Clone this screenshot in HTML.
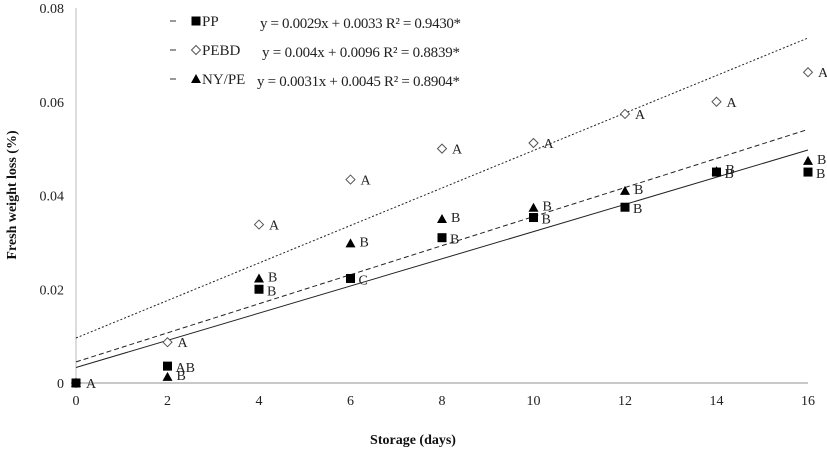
<!DOCTYPE html>
<html><head><meta charset="utf-8"><style>
body{margin:0;background:#fff;}
svg{display:block;font-family:"Liberation Serif",serif;}
</style></head><body>
<svg id="chart" width="827" height="450" viewBox="0 0 827 450" xmlns="http://www.w3.org/2000/svg"></svg>
<script>
const days=[0,2,4,6,8,10,12,14,16];
const ppValues=[0,0.0036,0.020,0.0223,0.031,0.0353,0.0375,0.045,0.045];
const pebdValues=[0,0.0087,0.0338,0.0434,0.050,0.0512,0.0574,0.0600,0.0663];
const nyValues=[0,0.0013,0.0223,0.0298,0.035,0.0374,0.041,0.0452,0.0474];
const ppLetters=["","AB","B","C","B","B","B","B","B"];
const pebdLetters=["A","A","A","A","A","A","A","A","A"];
const nyLetters=["","B","B","B","B","B","B","B","B"];
const xTicks=[0,2,4,6,8,10,12,14,16];
const yTicks=[0,0.02,0.04,0.06,0.08];
const yTickLabels=["0","0.02","0.04","0.06","0.08"];
const trendSlopes=[0.0029,0.004,0.0031];
const trendIntercepts=[0.0033,0.0096,0.0045];

const svg=document.getElementById('chart');
const NS='http://www.w3.org/2000/svg';
const X=d=>76+d*(732/16);
const Y=v=>383-v*(375/0.08);
function mk(tag,attrs,parent){const e=document.createElementNS(NS,tag);for(const k in attrs)e.setAttribute(k,attrs[k]);(parent||svg).appendChild(e);return e;}
function txt(s,attrs){const e=mk('text',attrs);e.textContent=s;return e;}

let e;
e=mk('line',{x1:76,y1:8,x2:76,y2:383,stroke:'#bbb','stroke-width':1});


e=mk('line',{x1:76,y1:383,x2:808,y2:383,stroke:'#c8c8c8','stroke-width':2});



yTicks.forEach((v,i)=>{
 e=txt(yTickLabels[i],{x:64,y:Y(v)+5,'text-anchor':'end','font-size':14,fill:'#222'});
 
 
});
xTicks.forEach(d=>{
 e=txt(String(d),{x:X(d),y:405,'text-anchor':'middle','font-size':14,fill:'#222'});
 
 
});
e=txt('Storage (days)',{x:413,y:444,'text-anchor':'middle','font-size':14,'font-weight':'bold',fill:'#111'});


e=txt('Fresh weight loss (%)',{x:0,y:0,transform:'translate(16,195) rotate(-90)','text-anchor':'middle','font-size':14,'font-weight':'bold',fill:'#111'});



const dashes=['','2,2','5,3'];
const trendNames=['trend-line-pp','trend-line-pebd','trend-line-nype'];
trendSlopes.forEach((a,i)=>{
 const b=trendIntercepts[i];
 e=mk('line',{x1:X(0),y1:Y(b),x2:X(16),y2:Y(a*16+b),stroke:'#222','stroke-width':1,'stroke-dasharray':dashes[i]});
 
 
});

function square(cx,cy){return mk('rect',{x:cx-4.5,y:cy-4.5,width:9,height:9,fill:'#000'});}
function diamond(cx,cy){return mk('polygon',{points:`${cx},${cy-4.5} ${cx+4.5},${cy} ${cx},${cy+4.5} ${cx-4.5},${cy}`,fill:'#fff',stroke:'#555','stroke-width':1});}
function tri(cx,cy){return mk('polygon',{points:`${cx},${cy-5} ${cx+5},${cy+4} ${cx-5},${cy+4}`,fill:'#000'});}

days.forEach((d,i)=>{
 e=diamond(X(d),Y(pebdValues[i]));
 
 
 e=txt(pebdLetters[i],{x:X(d)+10,y:Y(pebdValues[i])+5,'font-size':14,fill:'#222'});
 
 
 e=tri(X(d),Y(nyValues[i]));
 
 
 e=txt(nyLetters[i],{x:X(d)+9,y:Y(nyValues[i])+3,'font-size':14,fill:'#222'});
 
 
 e=square(X(d),Y(ppValues[i]));
 
 
 e=txt(ppLetters[i],{x:X(d)+8,y:Y(ppValues[i])+6,'font-size':14,fill:'#222'});
 
 
});

const legY=[21,50,79];
const legLabels=['PP','PEBD','NY/PE'];
const legEq=['y = 0.0029x + 0.0033  R\u00b2 = 0.9430*','y = 0.004x + 0.0096  R\u00b2 = 0.8839*','y = 0.0031x + 0.0045  R\u00b2 = 0.8904*'];
const legEqX=[260,262,257];
const legEqW=[201,198,203];
legY.forEach((y,i)=>{
 e=mk('line',{x1:170,y1:y,x2:176,y2:y,stroke:'#333','stroke-width':1});
 
 
 if(i==0)e=square(196,y);else if(i==1)e=diamond(196,y);else e=tri(196,y);
 
 
 e=txt(legLabels[i],{x:202,y:y+5,'font-size':15,fill:'#222'});
 
 
 e=txt(legEq[i],{x:legEqX[i],y:y+7,'font-size':15,fill:'#222','xml:space':'preserve',textLength:legEqW[i],lengthAdjust:'spacing'});
 
 
});
</script>
</body></html>
